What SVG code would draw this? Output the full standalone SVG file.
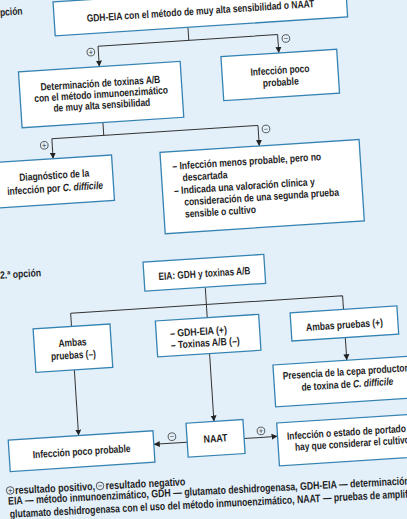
<svg xmlns="http://www.w3.org/2000/svg" width="407" height="519" viewBox="0 0 407 519">
<defs>
<style>
.bg{fill:#e3f0fa}
.box{fill:#fff;stroke:#3583b3;stroke-width:1.3}
.ln{fill:none;stroke:#333;stroke-width:1}
.t{font-family:"Liberation Sans",Arial,sans-serif;font-size:10.5px;font-weight:bold;fill:#1e1e1e;text-anchor:middle}
.s{text-anchor:start}
.bc{fill:none;stroke:#333;stroke-width:0.8}
.sg{font-family:"Liberation Sans",Arial,sans-serif;font-size:8px;fill:#333;text-anchor:middle}
.lg{font-family:"Liberation Sans",Arial,sans-serif;font-size:11px;font-weight:bold;fill:#1e1e1e}
.it{font-style:italic}
</style>
<marker id="ah" viewBox="0 0 6 6" refX="6" refY="3" markerWidth="6" markerHeight="6.5" markerUnits="userSpaceOnUse" orient="auto"><path d="M0,0 L6,3 L0,6 z" fill="#222"/></marker>
</defs>
<rect class="bg" width="407" height="519"/>
<g transform="rotate(-3.7 200 260)">
<g id="connectors">
<path class="ln" d="M203,27 V40 M112,40 H292"/>
<path class="ln" d="M112,40 V60.5" marker-end="url(#ah)"/>
<path class="ln" d="M292,40 V58.5" marker-end="url(#ah)"/>
<circle class="bc" cx="104.5" cy="45.5" r="3.8"/><text class="sg" x="104.5" y="48.3">+</text>
<circle class="bc" cx="300" cy="44.5" r="3.8"/><text class="sg" x="300" y="47.3">−</text>
<path class="ln" d="M112,116.5 V129.5 M60,129.5 H266.5"/>
<path class="ln" d="M60,129.5 V149.5" marker-end="url(#ah)"/>
<path class="ln" d="M266.5,129.5 V150" marker-end="url(#ah)"/>
<circle class="bc" cx="52" cy="135.5" r="3.8"/><text class="sg" x="52" y="138.3">+</text>
<circle class="bc" cx="274.3" cy="133.5" r="3.8"/><text class="sg" x="274.3" y="136.3">−</text>
<path class="ln" d="M203.5,287.5 V304.8 M67.5,304.8 H340 M67.5,304.8 V318 M203.5,304.8 V318 M340,304.8 V318.5"/>
<path class="ln" d="M340,346.7 V369.5" marker-end="url(#ah)"/>
<path class="ln" d="M203.5,354 V422" marker-end="url(#ah)"/>
<path class="ln" d="M67.5,361.5 V427.4" marker-end="url(#ah)"/>
<path class="ln" d="M175.5,441 H142" marker-end="url(#ah)"/>
<path class="ln" d="M232.5,441 H266" marker-end="url(#ah)"/>
<circle class="bc" cx="160.6" cy="434.5" r="3.8"/><text class="sg" x="160.6" y="437.3">−</text>
<circle class="bc" cx="249.8" cy="434.5" r="3.8"/><text class="sg" x="249.8" y="437.3">+</text>
</g>
<g id="label1"><text class="t s" x="16.4" y="3.5" textLength="22.5" lengthAdjust="spacingAndGlyphs">pción</text></g>
<g id="n-gdh"><rect class="box" x="70" y="-7" width="293" height="34"/>
<text class="t" x="216.5" y="15" textLength="228" lengthAdjust="spacingAndGlyphs">GDH-EIA con el método de muy alta sensibilidad o NAAT</text></g>
<g id="n-toxinas"><rect class="box" x="31" y="60.5" width="162" height="56"/>
<text class="t" x="112" y="80.7" textLength="120" lengthAdjust="spacingAndGlyphs">Determinación de toxinas A/B</text>
<text class="t" x="112" y="91.7" textLength="134" lengthAdjust="spacingAndGlyphs">con el método inmunoenzimático</text>
<text class="t" x="112" y="102.7" textLength="97" lengthAdjust="spacingAndGlyphs">de muy alta sensibilidad</text></g>
<g id="n-poco1"><rect class="box" x="234" y="58.5" width="116" height="44"/>
<text class="t" x="292" y="79.3" textLength="59" lengthAdjust="spacingAndGlyphs">Infección poco</text>
<text class="t" x="292" y="91.3" textLength="36" lengthAdjust="spacingAndGlyphs">probable</text></g>
<g id="n-diag"><rect class="box" x="1.5" y="149.5" width="117" height="45.5"/>
<text class="t" x="60" y="169.6" textLength="70" lengthAdjust="spacingAndGlyphs">Diagnóstico de la</text>
<text class="t" x="60" y="182.6" textLength="96" lengthAdjust="spacingAndGlyphs">infección por <tspan class="it">C. difficile</tspan></text></g>
<g id="n-menos"><rect class="box" x="167" y="150" width="199.5" height="81.5"/>
<text class="t s" x="178.5" y="168.2" textLength="149" lengthAdjust="spacingAndGlyphs">– Infección menos probable, pero no</text>
<text class="t s" x="188" y="180.2" textLength="45" lengthAdjust="spacingAndGlyphs">descartada</text>
<text class="t s" x="178.5" y="192.7" textLength="141" lengthAdjust="spacingAndGlyphs">– Indicada una valoración clínica y</text>
<text class="t s" x="188" y="204.7" textLength="155" lengthAdjust="spacingAndGlyphs">consideración de una segunda prueba</text>
<text class="t s" x="188" y="216.7" textLength="71" lengthAdjust="spacingAndGlyphs">sensible o cultivo</text></g>
<g id="label2"><text class="t s" x="-0.5" y="265.8" textLength="41" lengthAdjust="spacingAndGlyphs">2.ª opción</text></g>
<g id="n-eia"><rect class="box" x="143" y="258.5" width="121" height="29"/>
<text class="t" x="203.5" y="277.3" textLength="92" lengthAdjust="spacingAndGlyphs">EIA: GDH y toxinas A/B</text></g>
<g id="n-ambasneg"><rect class="box" x="29" y="318" width="77" height="43.5"/>
<text class="t" x="67.5" y="337.7" textLength="28" lengthAdjust="spacingAndGlyphs">Ambas</text>
<text class="t" x="67.5" y="350.3" textLength="45" lengthAdjust="spacingAndGlyphs">pruebas (–)</text></g>
<g id="n-mixto"><rect class="box" x="151.5" y="318" width="103.5" height="36"/>
<text class="t s" x="165.3" y="334.9" textLength="57" lengthAdjust="spacingAndGlyphs">– GDH-EIA (+)</text>
<text class="t s" x="165.3" y="346.6" textLength="69" lengthAdjust="spacingAndGlyphs">– Toxinas A/B (–)</text></g>
<g id="n-ambaspos"><rect class="box" x="286.5" y="318.5" width="107" height="28.2"/>
<text class="t" x="340" y="337.6" textLength="77" lengthAdjust="spacingAndGlyphs">Ambas pruebas (+)</text></g>
<g id="n-presencia"><rect class="box" x="266" y="369.5" width="150" height="42"/>
<text class="t s" x="275" y="384.5" textLength="130" lengthAdjust="spacingAndGlyphs">Presencia de la cepa productora</text>
<text class="t" x="339" y="397" textLength="92" lengthAdjust="spacingAndGlyphs">de toxina de <tspan class="it">C. difficile</tspan></text></g>
<g id="n-poco2"><rect class="box" x="-3" y="427.4" width="145" height="31.5"/>
<text class="t" x="69.5" y="447" textLength="98" lengthAdjust="spacingAndGlyphs">Infección poco probable</text></g>
<g id="n-naat"><rect class="box" x="175.5" y="422" width="57" height="34"/>
<text class="t" x="204" y="442.7" textLength="24" lengthAdjust="spacingAndGlyphs">NAAT</text></g>
<g id="n-portador"><rect class="box" x="266" y="427.6" width="150" height="43"/>
<text class="t s" x="275.5" y="444.9" textLength="119" lengthAdjust="spacingAndGlyphs">Infección o estado de portado</text>
<text class="t s" x="282.7" y="456.4" textLength="115" lengthAdjust="spacingAndGlyphs">hay que considerar el cultivo</text></g>
<g id="legend" transform="rotate(0.8 0 490)">
<circle class="bc" cx="-4.5" cy="477.8" r="3.8"/><text class="sg" x="-4.5" y="480.6">+</text>
<text class="lg" x="0.5" y="481.5" textLength="80" lengthAdjust="spacingAndGlyphs">resultado positivo,</text>
<circle class="bc" cx="85.5" cy="477.8" r="3.8"/><text class="sg" x="85.5" y="480.6">−</text>
<text class="lg" x="91" y="481.5" textLength="80" lengthAdjust="spacingAndGlyphs">resultado negativo</text>
<text class="lg" x="-7" y="492" textLength="402" lengthAdjust="spacingAndGlyphs">EIA — método inmunoenzimático, GDH — glutamato deshidrogenasa, GDH-EIA — determinación</text>
<text class="lg" x="-6" y="505" textLength="401" lengthAdjust="spacingAndGlyphs">glutamato deshidrogenasa con el uso del método inmunoenzimático, NAAT — pruebas de amplifi</text>
</g>
</g>
</svg>
